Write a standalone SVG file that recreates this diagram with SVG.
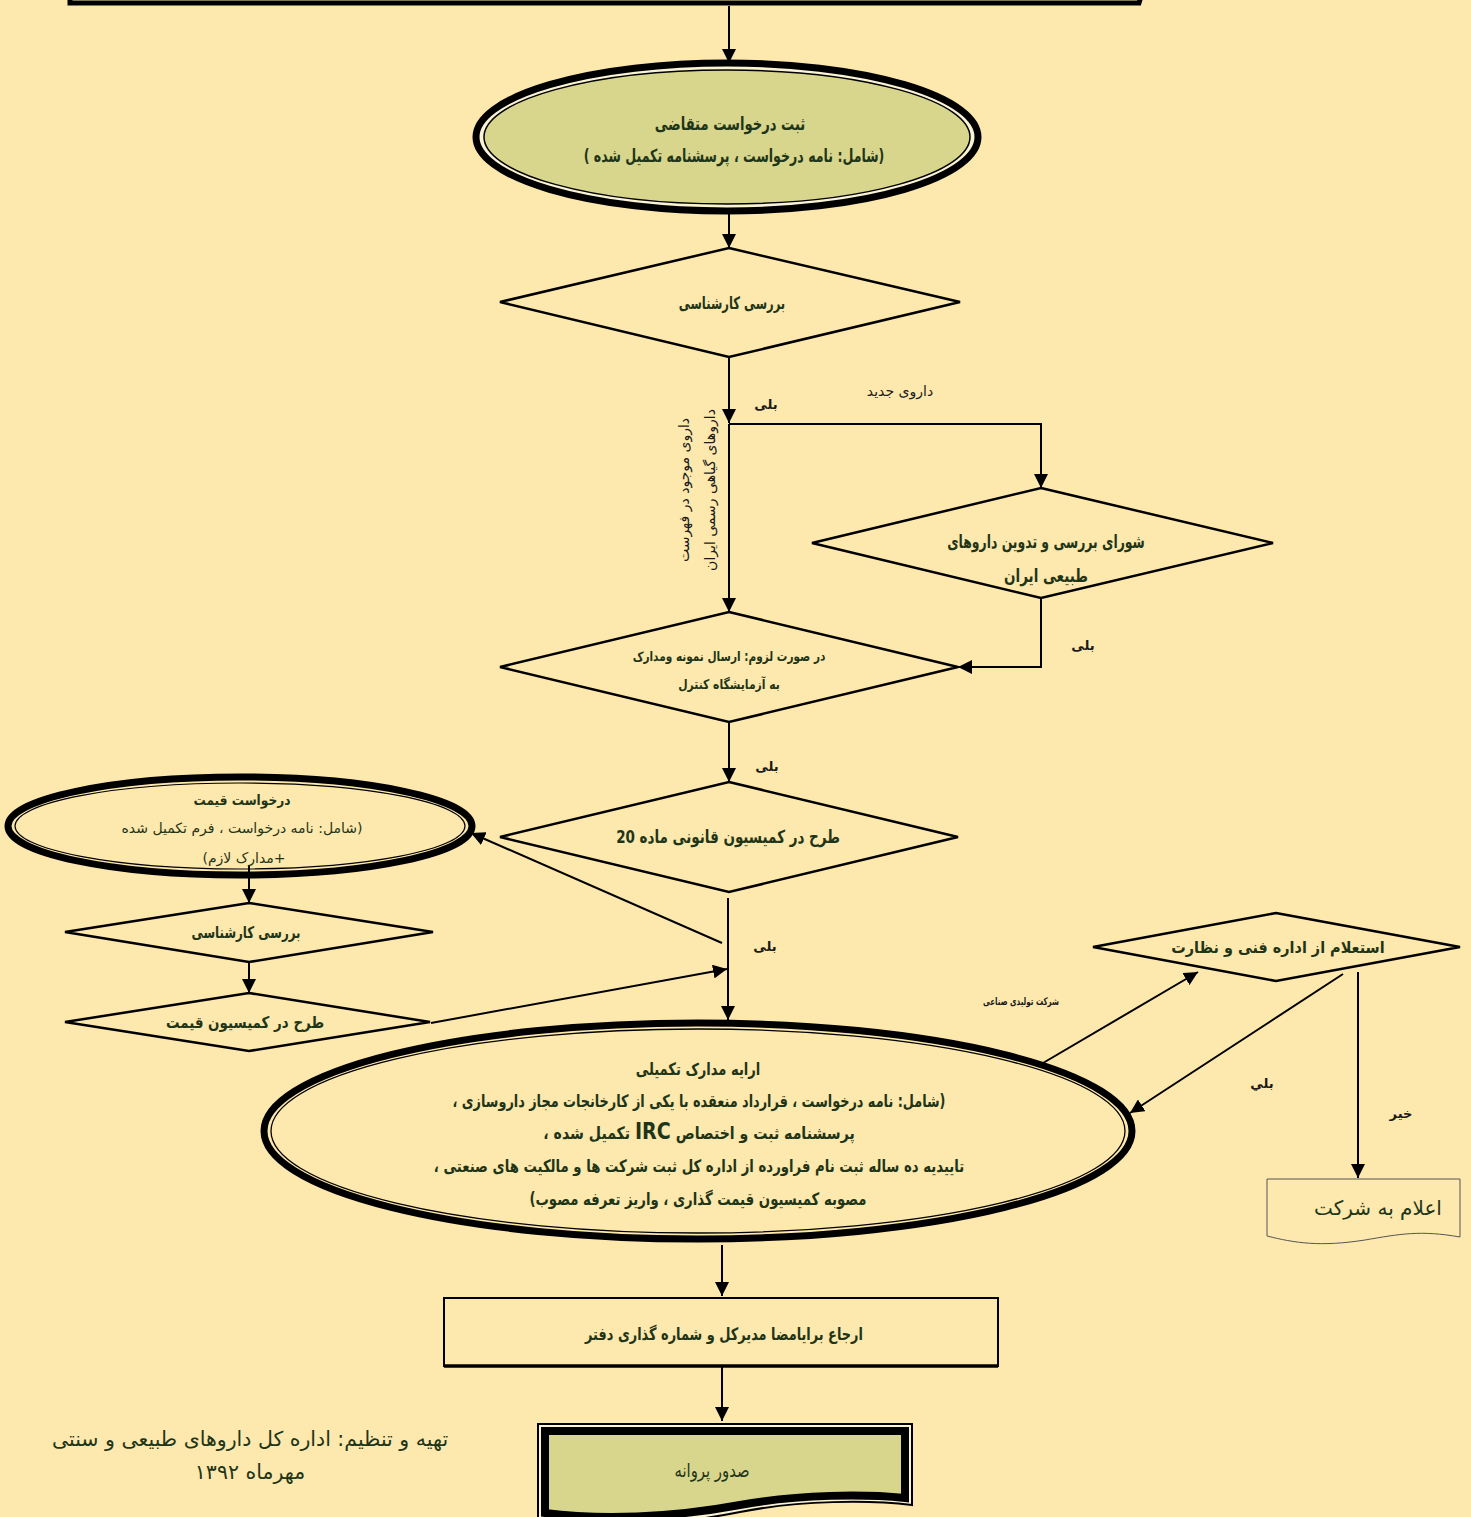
<svg xmlns="http://www.w3.org/2000/svg" width="1471" height="1517" viewBox="0 0 1471 1517">
<defs>
<marker id="ah" viewBox="0 0 12 12" refX="12" refY="6" markerWidth="14" markerHeight="14" markerUnits="userSpaceOnUse" orient="auto">
<path d="M0,0 L12,6 L0,12 z" fill="#000"/>
</marker>
<style>
.bg{fill:#FDE8AD}
.t{font-family:"DejaVu Sans",sans-serif;text-anchor:middle;fill:#1F3518;direction:rtl;unicode-bidi:embed}
.b{font-weight:bold}
.lbl{font-family:"DejaVu Sans",sans-serif;text-anchor:middle;fill:#1a1a1a;font-size:13px;font-weight:bold;direction:rtl;unicode-bidi:embed}
.dm{fill:none;stroke:#000;stroke-width:2.5}
.c{fill:none;stroke:#000;stroke-width:2}
.ca{fill:none;stroke:#000;stroke-width:2;marker-end:url(#ah)}
</style>
</defs>
<rect class="bg" x="0" y="0" width="1471" height="1517"/>

<g id="top-box">
<path d="M70,-20 L70,3 L1139,3 L1146,-20" fill="none" stroke="#000" stroke-width="5"/>
<path d="M74,-20 L74,-1 L1137,-1 L1142,-20" fill="none" stroke="#fff" stroke-width="1.5"/>
</g>

<g id="connectors">
<line class="ca" x1="729" y1="6" x2="729" y2="63"/>
<line class="ca" x1="729" y1="213" x2="729" y2="248"/>
<line class="ca" x1="729" y1="358" x2="729" y2="423"/>
<polyline class="ca" points="729,424 1041,424 1041,488"/>
<line class="ca" x1="729" y1="424" x2="729" y2="612"/>
<polyline class="ca" points="1041,598 1041,667 958,667"/>
<line class="ca" x1="729" y1="722" x2="729" y2="782"/>
<line class="ca" x1="728" y1="898" x2="728" y2="1020"/>
<line class="ca" x1="722" y1="943" x2="471" y2="833"/>
<line class="ca" x1="249" y1="866" x2="249" y2="903"/>
<line class="ca" x1="249" y1="962" x2="249" y2="993"/>
<line class="ca" x1="431" y1="1023" x2="727" y2="969"/>
<line class="ca" x1="1043" y1="1063" x2="1198" y2="972"/>
<line class="ca" x1="1343" y1="974" x2="1130" y2="1113"/>
<line class="ca" x1="1358" y1="972" x2="1358" y2="1178"/>
<line class="ca" x1="722" y1="1245" x2="722" y2="1296"/>
<line class="ca" x1="722" y1="1367" x2="722" y2="1421"/>
</g>

<g id="labels">
<text class="lbl" x="766" y="409">بلی</text>
<text class="lbl" x="900" y="396" style="font-weight:normal;font-size:14px">داروی جدید</text>
<text class="lbl" x="1083" y="650">بلی</text>
<text class="lbl" x="767" y="771">بلی</text>
<text class="lbl" x="765" y="951">بلی</text>
<text class="lbl" transform="translate(1021,1005) scale(0.68,1)" style="font-size:10.5px">شرکت تولیدی صناعی</text>
<text class="lbl" x="1262" y="1088">بلي</text>
<text class="lbl" x="1401" y="1118">خیر</text>
<g transform="translate(689,490) rotate(-90)">
<text class="lbl" x="0" y="0" style="font-weight:normal;font-size:14px">داروی موجود در فهرست</text>
<text class="lbl" x="0" y="26" style="font-weight:normal;font-size:14px">داروهای گیاهی رسمی ایران</text>
</g>
</g>

<g id="n-start">
<ellipse cx="727" cy="137" rx="251" ry="74" fill="#FBF3D6" stroke="#000" stroke-width="7"/>
<ellipse cx="727" cy="137" rx="243" ry="67" fill="#D8D68C" stroke="#000" stroke-width="1.5"/>
<text class="t b" transform="translate(730,130) scale(0.73,1)" font-size="18">ثبت درخواست متقاضی</text>
<text class="t b" transform="translate(734,162) scale(0.70,1)" font-size="18">(شامل: نامه درخواست ، پرسشنامه تکمیل شده )</text>
</g>

<g id="n-review">
<polygon class="dm" points="729,248 960,302 729,357 500,302"/>
<text class="t b" transform="translate(732,309) scale(0.68,1)" font-size="17">بررسی کارشناسی</text>
</g>

<g id="n-council">
<polygon class="dm" points="1041,488 1273,543 1041,598 812,543"/>
<text class="t b" transform="translate(1046,548) scale(0.69,1)" font-size="18">شورای بررسی و تدوین داروهای</text>
<text class="t b" transform="translate(1046,582) scale(0.75,1)" font-size="18">طبیعی ایران</text>
</g>

<g id="n-lab">
<polygon class="dm" points="729,612 958,667 729,722 500,667"/>
<text class="t b" transform="translate(729,661) scale(0.78,1)" font-size="13.5">در صورت لزوم: ارسال نمونه ومدارک</text>
<text class="t b" transform="translate(729,689) scale(0.8,1)" font-size="13.5">به آزمایشگاه کنترل</text>
</g>

<g id="n-commission20">
<polygon class="dm" points="729,782 958,837 729,892 500,837"/>
<text class="t b" transform="translate(728,843) scale(0.75,1)" font-size="18">طرح در کمیسیون قانونی ماده 20</text>
</g>

<g id="n-price-request">
<ellipse cx="240" cy="826" rx="232" ry="49" fill="none" stroke="#000" stroke-width="7"/>
<ellipse cx="240" cy="826" rx="225" ry="43" fill="none" stroke="#000" stroke-width="1.2"/>
<text class="t b" transform="translate(242,805) scale(0.87,1)" font-size="14">درخواست قیمت</text>
<text class="t" x="242" y="833" font-size="14">(شامل: نامه درخواست ، فرم تکمیل شده</text>
<text class="t" x="244" y="863" font-size="14">+مدارک لازم)</text>
</g>

<g id="n-price-review">
<polygon class="dm" points="249,903 433,932 249,962 65,932"/>
<text class="t b" transform="translate(246,938) scale(0.74,1)" font-size="16">بررسی کارشناسی</text>
</g>

<g id="n-price-commission">
<polygon class="dm" points="249,993 430,1022 249,1051 65,1022"/>
<text class="t b" transform="translate(245,1028) scale(0.84,1)" font-size="16">طرح در کمیسیون قیمت</text>
</g>

<g id="n-docs">
<ellipse cx="698" cy="1131" rx="434" ry="108" fill="none" stroke="#000" stroke-width="7"/>
<ellipse cx="698" cy="1131" rx="427" ry="102" fill="none" stroke="#000" stroke-width="1.3"/>
<text class="t b" transform="translate(698,1075) scale(0.77,1)" font-size="17">ارایه مدارک تکمیلی</text>
<text class="t b" transform="translate(699,1107) scale(0.755,1)" font-size="17">(شامل: نامه درخواست ، قرارداد منعقده با یکی از کارخانجات مجاز داروسازی ،</text>
<text class="t b" transform="translate(699,1139) scale(0.83,1)" font-size="17">پرسشنامه ثبت و اختصاص <tspan font-size="23">IRC</tspan> تکمیل شده ،</text>
<text class="t b" transform="translate(699,1172) scale(0.78,1)" font-size="17">تاییدیه ده ساله ثبت نام فراورده از اداره کل ثبت شرکت ها و مالکیت های صنعتی ،</text>
<text class="t b" transform="translate(698,1205) scale(0.78,1)" font-size="17">مصوبه کمیسیون قیمت گذاری ، واریز تعرفه مصوب)</text>
</g>

<g id="n-inquiry">
<polygon class="dm" points="1276,913 1460,947 1276,981 1093,947"/>
<text class="t b" transform="translate(1278,953) scale(0.9,1)" font-size="16">استعلام از اداره فنی و نظارت</text>
</g>

<g id="n-notify">
<path d="M1267,1179 L1460,1179 L1460,1237 C1420,1230 1400,1234 1365,1240 C1320,1247 1295,1243 1267,1236 Z" fill="none" stroke="#555" stroke-width="1"/>
<text class="t" x="1378" y="1215" font-size="20">اعلام به شرکت</text>
</g>

<g id="n-refer">
<rect x="444" y="1298" width="554" height="68" fill="none" stroke="#000" stroke-width="2"/>
<line x1="444" y1="1366" x2="998" y2="1366" stroke="#000" stroke-width="3.5"/>
<text class="t b" transform="translate(724,1340) scale(0.76,1)" font-size="17">ارجاع برایامضا مدیرکل و شماره گذاری دفتر</text>
</g>

<g id="n-license">
<path d="M538,1424 L912,1424 L912,1505 C870,1500 800,1500 740,1512 C670,1526 600,1528 538,1520 Z" fill="#FBF3D6" stroke="#000" stroke-width="2"/>
<path d="M545,1431 L905,1431 L905,1498 C865,1494 800,1494 740,1505 C670,1518 600,1520 545,1513 Z" fill="#D8D68C" stroke="#000" stroke-width="8"/>
<text class="t" transform="translate(712,1477) scale(0.78,1)" font-size="19">صدور پروانه</text>
</g>

<g id="footer">
<text class="t" x="250" y="1446" font-size="20.5">تهیه و تنظیم: اداره کل داروهای طبیعی و سنتی</text>
<text class="t" x="250" y="1479" font-size="20.5">مهرماه ۱۳۹۲</text>
</g>
</svg>
